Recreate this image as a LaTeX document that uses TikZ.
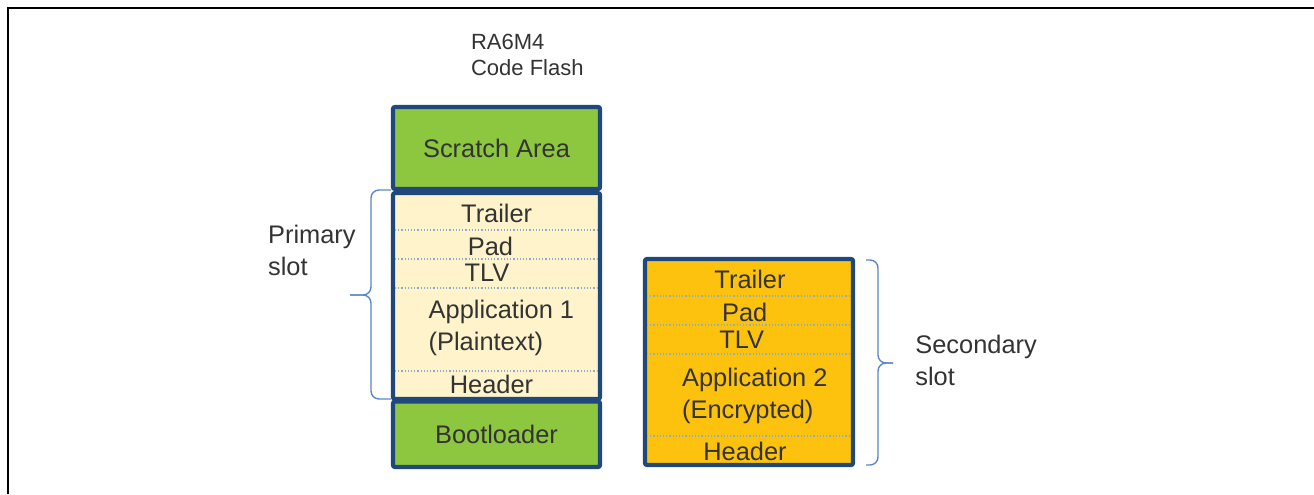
\documentclass[tikz,border=0pt]{standalone}
\usepackage{fontspec}
\setmainfont{Liberation Sans}
\usetikzlibrary{calc}

\definecolor{flashgreen}{RGB}{141,198,63}
\definecolor{plaincream}{RGB}{255,243,204}
\definecolor{cryptamber}{RGB}{252,194,14}
\definecolor{edgeblue}{RGB}{31,73,125}
\definecolor{dotblue}{RGB}{140,170,205}
\definecolor{braceblue}{RGB}{91,135,200}
\definecolor{textgray}{RGB}{51,51,51}

\tikzset{
  region/.style={draw=edgeblue, line width=2.1pt, rounded corners=1pt,
    minimum width=103.5pt, inner sep=0pt, text=textgray,
    font=\fontsize{12.7}{16}\selectfont},
  divider/.style={draw=dotblue, densely dotted, line width=0.6pt},
  lbl/.style={text=textgray, inner sep=0pt, font=\fontsize{12.7}{16}\selectfont},
  slotbrace/.style={draw=braceblue, line width=0.7pt, rounded corners=4pt},
}

\begin{document}
\begin{tikzpicture}[x=0.5pt,y=-0.5pt]
        \useasboundingbox (0,0) rectangle (1314,494);
        % frame
        \draw[line width=1pt] (8,494) -- (8,8) -- (1314,8);
        % title (base = last line)
        \node[lbl, anchor=base west, align=left, font=\fontsize{11}{12.85}\selectfont]
          (title) at (470.7,75) {RA6M4\\Code Flash};
        % code flash stack
        \node[region, fill=flashgreen, minimum height=41pt] (scratch) at (496.5,148) {Scratch Area};
        \node[region, fill=plaincream, minimum height=103pt] (primary) at (496.5,296) {};
        \node[region, fill=flashgreen, minimum height=32.75pt] (boot) at (496.5,434.25) {Bootloader};
        \foreach \y in {230,259,288,371}
          \draw[divider] (395,\y) -- (598,\y);
        \node[lbl, anchor=base] (ptrailer) at (496.7,222.7) {Trailer};
        \node[lbl, anchor=base] (ppad) at (490.5,255) {Pad};
        \node[lbl, anchor=base] (ptlv) at (487,281.7) {TLV};
        \node[lbl, anchor=base west, align=left] (papp) at (428.3,350.3) {Application 1\\(Plaintext)};
        \node[lbl, anchor=base] (pheader) at (491.5,393.3) {Header};
        % secondary slot
        \node[region, fill=cryptamber, minimum width=104pt, minimum height=103pt] (secondary) at (749,362) {};
        \foreach \y in {296,325,354,436}
          \draw[divider] (647,\y) -- (851,\y);
        \node[lbl, anchor=base] (strailer) at (750,288.3) {Trailer};
        \node[lbl, anchor=base] (spad) at (744.7,321.7) {Pad};
        \node[lbl, anchor=base] (stlv) at (741.7,348.3) {TLV};
        \node[lbl, anchor=base west, align=left] (sapp) at (681.7,418.2) {Application 2\\(Encrypted)};
        \node[lbl, anchor=base] (sheader) at (745,460) {Header};
        % braces
        \coordinate (ptop) at (391,190);
        \coordinate (pbot) at (391,399);
        \coordinate (ptip) at (350,295);
        \draw[slotbrace] (ptop) -- (371,190) -- (371,295) -- (ptip);
        \draw[slotbrace] (ptip) -- (371,295) -- (371,399) -- (pbot);
        \coordinate (stop) at (866,260);
        \coordinate (sbot) at (866,465);
        \coordinate (stip) at (893,363);
        \draw[slotbrace] (stop) -- (878,260) -- (878,363) -- (stip);
        \draw[slotbrace] (stip) -- (878,363) -- (878,465) -- (sbot);
        \node[lbl, anchor=base west, align=left] (plabel) at (267.7,275) {Primary\\slot};
        \node[lbl, anchor=base west, align=left] (slabel) at (915,385) {Secondary\\slot};
\end{tikzpicture}
\end{document}
